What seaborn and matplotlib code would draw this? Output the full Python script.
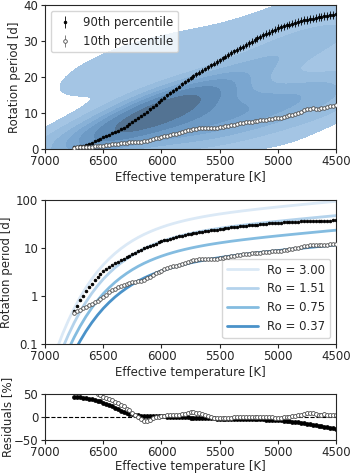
import numpy as np
import pandas as pd
import seaborn as sns
from matplotlib import pyplot as plt
from matplotlib.ticker import NullLocator

# binned percentiles of the rotation periods, 25 K steps from 6750 K to 4500 K
teff = np.arange(6750, 4475, -25)
p90 = [0.49, 0.63, 0.81, 1.01, 1.24, 1.50, 1.81, 2.14, 2.50, 2.87,
       3.26, 3.62, 3.99, 4.38, 4.77, 5.15, 5.57, 6.00, 6.45, 6.95,
       7.49, 8.03, 8.61, 9.20, 9.83, 10.42, 11.04, 11.70, 12.38, 13.05,
       13.73, 14.35, 14.92, 15.60, 16.20, 16.80, 17.40, 18.00, 18.57, 19.10,
       19.68, 20.20, 20.75, 21.30, 21.79, 22.30, 22.80, 23.30, 23.75, 24.20,
       24.68, 25.20, 25.70, 26.20, 26.73, 27.15, 27.60, 28.00, 28.43, 28.90,
       29.40, 29.90, 30.37, 30.80, 31.20, 31.60, 32.02, 32.40, 32.80, 33.20,
       33.64, 33.90, 34.10, 34.40, 34.64, 34.90, 35.10, 35.40, 35.60, 35.80,
       36.00, 36.15, 36.30, 36.50, 36.65, 36.80, 37.00, 37.10, 37.25, 37.40,
       37.50]
p10 = [0.44, 0.48, 0.52, 0.56, 0.60, 0.64, 0.69, 0.74, 0.80, 0.88,
       0.97, 1.07, 1.18, 1.30, 1.41, 1.51, 1.61, 1.70, 1.77, 1.85,
       1.92, 1.98, 2.03, 2.08, 2.17, 2.31, 2.50, 2.74, 3.00, 3.18,
       3.36, 3.57, 3.77, 4.00, 4.18, 4.30, 4.42, 4.68, 4.95, 5.20,
       5.41, 5.58, 5.70, 5.78, 5.82, 5.82, 5.81, 5.83, 5.87, 5.98,
       6.14, 6.28, 6.42, 6.55, 6.68, 6.84, 6.99, 7.15, 7.31, 7.44,
       7.57, 7.67, 7.77, 7.88, 7.99, 8.12, 8.24, 8.34, 8.44, 8.52,
       8.60, 8.78, 8.98, 9.18, 9.39, 9.62, 9.85, 10.10, 10.38, 10.75,
       11.07, 11.25, 11.32, 11.28, 11.25, 11.40, 11.56, 11.70, 11.86, 12.00,
       12.18]
# relative size of the error bars
err90_frac = 0.03
err10_frac = 0.02

# convective turnover time
tau_teff = [6900, 6850, 6800, 6750, 6700, 6650, 6600, 6550, 6500, 6450,
            6400, 6350, 6300, 6250, 6200, 6150, 6100, 6050, 6000, 5950,
            5900, 5850, 5800, 5750, 5700, 5650, 5600, 5550, 5500, 5400,
            5300, 5200, 5100, 5000, 4900, 4800, 4700, 4600, 4500]
tau_c = [0.026, 0.054, 0.103, 0.184, 0.31, 0.493, 0.745, 1.075, 1.49, 1.98,
         2.56, 3.21, 3.93, 4.71, 5.53, 6.38, 7.24, 8.12, 9.00, 9.88,
         10.74, 11.59, 12.42, 13.23, 14.02, 14.79, 15.55, 16.28, 17.00, 18.41,
         19.77, 21.12, 22.48, 23.84, 25.23, 26.66, 28.13, 29.67, 31.27]
rossby = [3.00, 1.51, 0.75, 0.37]
ro_colors = ["#dbe9f6", "#b4d3ec", "#84bce0", "#4a92c9"]

# rough star density for the kde (teff, period, weight)
kde_teff = [6900, 6750, 6600, 6500,                     # hot end
            6400, 6250, 6100, 5950, 5800, 5650,         # main ridge
            5500, 5500, 5250, 5250, 5000, 5000, 4750, 4750, 4500, 4500,
            6000, 5750, 5500, 5250, 5000, 4750, 4500,  # lower band
            6600, 6450, 6250, 6000, 5700, 5400, 5100, 4800, 4500,  # upper halo
            5500, 5000, 4600]                           # fast rotators
kde_prot = [0.8, 1.5, 2.5, 3.0,
            4.5, 7.0, 9.5, 12.0, 14.0, 15.0,
            10.0, 18.0, 12.0, 22.0, 14.0, 26.0, 16.0, 30.0, 18.0, 33.0,
            4.0, 6.0, 6.0, 7.0, 9.0, 11.0, 13.0,
            18.0, 22.0, 25.0, 28.0, 30.0, 32.0, 36.0, 40.0, 43.0,
            1.0, 0.8, 0.8]
kde_w = [1, 2.5, 3, 4,
         5, 8, 10, 9, 7, 5.5,
         5, 4.5, 4, 3.5, 3.5, 3, 3, 2.5, 3, 2.5,
         4, 4, 3, 2, 2, 2, 2,
         1.3, 1.3, 1.2, 1, 0.8, 0.8, 0.8, 0.8, 0.8,
         0.8, 0.7, 0.6]

# residuals of the percentiles against the Ro = 1.51 and Ro = 0.37 curves
tau_at = np.interp(teff[::-1], tau_teff[::-1], np.log(tau_c[::-1]))[::-1]
tau_at = np.exp(tau_at)
res90 = (np.array(p90) - 1.51 * tau_at) / np.array(p90) * 100
res10 = (np.array(p10) - 0.37 * tau_at) / np.array(p10) * 100

sns.set_style("ticks")
plt.rcParams.update({"font.size": 8.5, "axes.labelsize": 8.5,
                     "xtick.labelsize": 8.5, "ytick.labelsize": 8.5,
                     "legend.fontsize": 8.5, "xtick.major.size": 3,
                     "ytick.major.size": 3, "xtick.major.pad": 1.5,
                     "ytick.major.pad": 2, "axes.labelpad": 2})

kde_cmap = sns.blend_palette(["#a9c9e6", "#7eaad3", "#5f8db9", "#4d6781"],
                             as_cmap=True)

fig = plt.figure(figsize=(3.5, 4.75), dpi=100)
ax1 = fig.add_axes([0.129, 0.686, 0.831, 0.303])
ax2 = fig.add_axes([0.129, 0.276, 0.831, 0.303])
ax3 = fig.add_axes([0.129, 0.074, 0.831, 0.097])

# top: density + percentiles
sns.kdeplot(x=kde_teff, y=kde_prot, weights=kde_w, fill=True,
            cmap=kde_cmap, bw_adjust=0.85, levels=8, ax=ax1)
ax1.errorbar(teff, p90, yerr=err90_frac * np.array(p90), fmt="o", color="k",
             ms=2, mew=0.5, elinewidth=0.6, label="90th percentile", zorder=5)
ax1.errorbar(teff, p10, yerr=err10_frac * np.array(p10), fmt="o",
             mfc="white", mec="0.3", ecolor="0.3", ms=2.6, mew=0.6,
             elinewidth=0.5, label="10th percentile", zorder=5)
ax1.set_xlim(7000, 4500)
ax1.set_ylim(0, 40)
ax1.set_xticks([7000, 6500, 6000, 5500, 5000, 4500])
ax1.set_yticks([0, 10, 20, 30, 40])
ax1.set_xlabel("Effective temperature [K]")
ax1.set_ylabel("Rotation period [d]")
ax1.legend(loc="upper left", handlelength=1.5, borderpad=0.4)

# middle: log periods with Rossby curves
ro_df = pd.DataFrame({
    "Teff": np.tile(tau_teff, len(rossby)),
    "P": np.outer(rossby, tau_c).ravel(),
    "Ro": np.repeat(["Ro = %.2f" % r for r in rossby], len(tau_teff)),
})
sns.lineplot(data=ro_df, x="Teff", y="P", hue="Ro", palette=ro_colors,
             lw=2, ax=ax2)
ax2.errorbar(teff, p90, yerr=err90_frac * np.array(p90), fmt="o", color="k",
             ms=2, mew=0.5, elinewidth=0.6, zorder=5)
ax2.errorbar(teff, p10, yerr=err10_frac * np.array(p10), fmt="o",
             mfc="white", mec="0.3", ecolor="0.3", ms=2.6, mew=0.6,
             elinewidth=0.5, zorder=5)
ax2.set_yscale("log")
ax2.set_xlim(7000, 4500)
ax2.set_ylim(0.1, 100)
ax2.set_yticks([0.1, 1, 10, 100])
ax2.set_yticklabels(["0.1", "1", "10", "100"])
ax2.yaxis.set_minor_locator(NullLocator())
ax2.set_xticks([7000, 6500, 6000, 5500, 5000, 4500])
ax2.set_xlabel("Effective temperature [K]")
ax2.set_ylabel("Rotation period [d]")
ax2.legend(loc="lower right", title=None, handlelength=2.6)

# bottom: residuals
ax3.axhline(0, ls="--", color="k", lw=0.8)
ax3.plot(teff, res90, "o", color="k", ms=2.4)
ax3.plot(teff, res10, "o", mfc="white", mec="0.3", ms=2.8, mew=0.6)
ax3.set_xlim(7000, 4500)
ax3.set_ylim(-50, 50)
ax3.set_yticks([-50, 0, 50])
ax3.set_xticks([7000, 6500, 6000, 5500, 5000, 4500])
ax3.set_xlabel("Effective temperature [K]", labelpad=1)
ax3.set_ylabel("Residuals [%]", labelpad=0)

fig.savefig("out.png", dpi=100)
